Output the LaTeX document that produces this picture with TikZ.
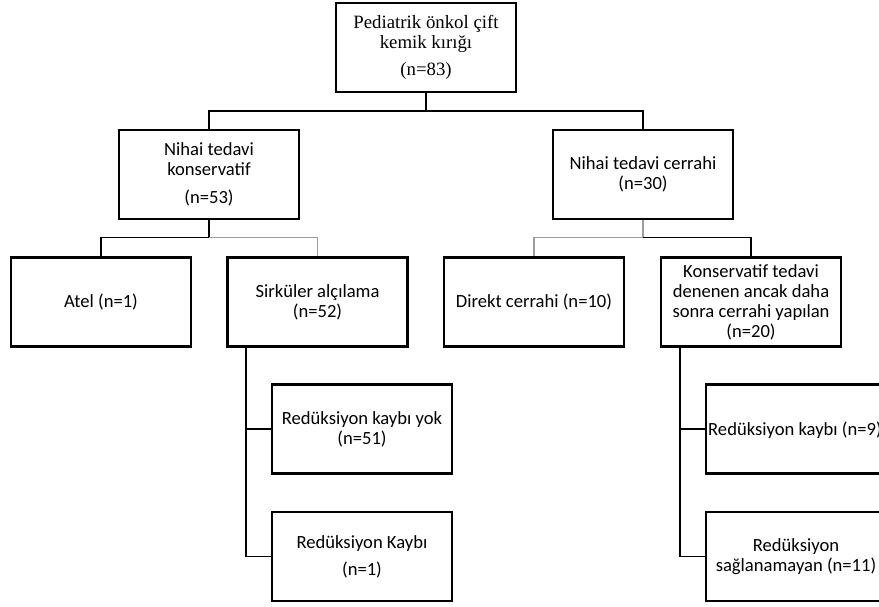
\documentclass[tikz,border=0pt]{standalone}
\usepackage{fontspec}
\setmainfont{Carlito}
\newfontfamily\timesf{Liberation Serif}
\newcommand{\boxfont}{\fontsize{18.6}{20}\selectfont}
\begin{document}
\begin{tikzpicture}[x=1pt,y=-1pt,
  box/.style={draw, line width=2.2pt, minimum width=180pt, minimum height=89pt,
    inner sep=0pt, align=center, font=\boxfont},
  lbl/.style={inner sep=0pt, align=center, font=\boxfont},
  blk/.style={line width=1.2pt, black},
  gry/.style={line width=1.8pt, color=black!38}]
\useasboundingbox (0,0) rectangle (879,607);
\clip (0,0) rectangle (879,607);
\fill[white] (0,0) rectangle (879,607);

\node[box, font=\timesf\fontsize{18.8}{20}\selectfont] (root) at (426,47.5) {Pediatrik önkol çift\\kemik kırığı\\[7pt](n=83)};
\node[box] (kons) at (209,174.5) {Nihai tedavi\\konservatif\\[8pt](n=53)};
\node[box] (cerr) at (643,174.5) {Nihai tedavi cerrahi\\(n=30)};
\node[box] (atel) at (101,302) {Atel (n=1)};
\node[box] (sirk) at (317.5,302) {Sirküler alçılama\\(n=52)};
\node[box] (direkt) at (534,302) {Direkt cerrahi (n=10)};
\node[box] (kted) at (751,302) {Konservatif tedavi\\denenen ancak daha\\sonra cerrahi yapılan\\(n=20)};
\node[box] (r1) at (362,429) {Redüksiyon kaybı yok\\(n=51)};
\node[box] (r2) at (362,556.5) {Redüksiyon Kaybı\\[7pt](n=1)};
\node[box] (r3) at (796,429) {};
\node[lbl, anchor=west] (r3t) at (708,430) {Redüksiyon kaybı (n=9)};
\node[box] (r4) at (796,556.5) {Redüksiyon\\sağlanamayan (n=11)};

\coordinate (j1) at (426,111);
\draw[blk] (root.south) -- (j1);
\draw[blk] (kons.north) |- (j1) -| (cerr.north);

\coordinate (j2) at (209,237.5);
\draw[blk] (kons.south) -- (j2) -| (atel.north);
\draw[gry] (j2) -| (sirk.north);

\coordinate (j3) at (643,237.5);
\draw[gry] (cerr.south) -- (j3) -| (direkt.north);
\draw[blk] (j3) -| (kted.north);

\coordinate (s1) at (246,348);
\draw[blk] (s1) |- (r1.west);
\draw[blk] (s1) |- (r2.west);

\coordinate (s2) at (680,348);
\draw[blk] (s2) |- (r3.west);
\draw[blk] (s2) |- (r4.west);
\end{tikzpicture}
\end{document}
